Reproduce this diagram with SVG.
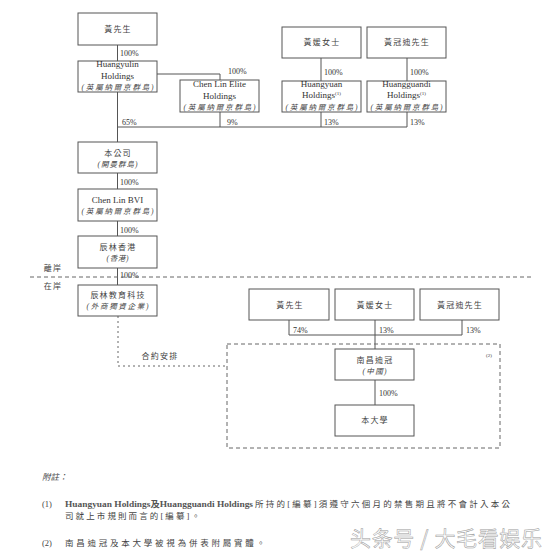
<svg xmlns="http://www.w3.org/2000/svg" width="550" height="553" viewBox="0 0 550 553">
<style>
  .box { fill: #fff; stroke: #555; stroke-width: 1; }
  .ln { fill: none; stroke: #555; stroke-width: 1; }
  .dash { fill: none; stroke: #666; stroke-width: 1; stroke-dasharray: 4 3; }
  .dot { fill: none; stroke: #666; stroke-width: 1; stroke-dasharray: 2 3; }
  .cjk { font-family: "Liberation Serif", "Noto Sans CJK TC", serif; font-size: 8px; fill: #444; text-anchor: middle; letter-spacing: 1.2px; }
  .lat { font-family: "Liberation Serif", "Noto Sans CJK TC", serif; font-size: 9px; fill: #333; text-anchor: middle; }
  .it { font-family: "Liberation Serif", "Noto Sans CJK TC", serif; font-size: 7.5px; fill: #444; text-anchor: middle; font-style: italic; }
  .pct { font-family: "Liberation Serif", serif; font-size: 8px; fill: #333; }
  .note { font-family: "Liberation Serif", "Noto Sans CJK TC", serif; font-size: 8.5px; fill: #444; }
  .sup { font-size: 5px; }
</style>

<g id="connectors">
  <path class="ln" d="M117.5,45 V61"/>
  <path class="ln" d="M157,74 H220 V80"/>
  <path class="ln" d="M220,112 V127"/>
  <path class="ln" d="M117.5,92 V142"/>
  <path class="ln" d="M117.5,127 H407"/>
  <path class="ln" d="M321,58 V81"/>
  <path class="ln" d="M321,112 V127"/>
  <path class="ln" d="M407,58 V81"/>
  <path class="ln" d="M407,112 V127"/>
  <path class="ln" d="M117.5,173 V189"/>
  <path class="ln" d="M117.5,221 V236"/>
  <path class="ln" d="M117.5,268 V285"/>
  <path class="dot" d="M118,316 V366 H227"/>
  <path class="ln" d="M289,320 V335 H462 V320"/>
  <path class="ln" d="M375,320 V349"/>
  <path class="ln" d="M375,380 V405"/>
  <text class="pct" x="120" y="56">100%</text>
  <text class="pct" x="228" y="74">100%</text>
  <text class="pct" x="122" y="125">65%</text>
  <text class="pct" x="227" y="125">9%</text>
  <text class="pct" x="324" y="75">100%</text>
  <text class="pct" x="410" y="75">100%</text>
  <text class="pct" x="324" y="125">13%</text>
  <text class="pct" x="410" y="125">13%</text>
  <text class="pct" x="120" y="185">100%</text>
  <text class="pct" x="120" y="233">100%</text>
  <text class="pct" x="120" y="278">100%</text>
  <text class="pct" x="293" y="333">74%</text>
  <text class="pct" x="379" y="333">13%</text>
  <text class="pct" x="466" y="333">13%</text>
  <text class="pct" x="379" y="396">100%</text>
  <text class="cjk" x="160" y="359">合約安排</text>
</g>

<g id="boundary">
  <path class="dash" d="M30,277 H532"/>
  <text class="cjk" x="53" y="271">離岸</text>
  <text class="cjk" x="53" y="289">在岸</text>
  <rect class="dash" x="227" y="344" width="273" height="104"/>
  <text class="pct" x="486" y="357" style="font-size:5px">(2)</text>
</g>

<g id="n-huang">
  <rect class="box" x="78" y="13" width="79" height="32"/>
  <text class="cjk" x="118" y="32">黃先生</text>
</g>
<g id="n-huangyulin">
  <rect class="box" x="78" y="61" width="79" height="31"/>
  <text class="lat" x="117.5" y="67">Huangyulin</text>
  <text class="lat" x="117.5" y="79">Holdings</text>
  <text class="it" x="117.5" y="90" textLength="72" lengthAdjust="spacing">(英屬納爾京群島)</text>
</g>
<g id="n-chenlinelite">
  <rect class="box" x="180" y="80" width="79" height="32"/>
  <text class="lat" x="219.5" y="87">Chen Lin Elite</text>
  <text class="lat" x="219.5" y="99">Holdings</text>
  <text class="it" x="219.5" y="110" textLength="72" lengthAdjust="spacing">(英屬納爾京群島)</text>
</g>
<g id="n-huangyuan-ms">
  <rect class="box" x="282" y="27" width="79" height="31"/>
  <text class="cjk" x="322" y="45">黃媛女士</text>
</g>
<g id="n-huangguandi-mr">
  <rect class="box" x="367" y="27" width="79" height="31"/>
  <text class="cjk" x="407" y="45">黃冠迪先生</text>
</g>
<g id="n-huangyuan-holdings">
  <rect class="box" x="282" y="81" width="79" height="31"/>
  <text class="lat" x="321.5" y="87">Huangyuan</text>
  <text class="lat" x="321.5" y="98">Holdings<tspan class="sup" dy="-3">(1)</tspan></text>
  <text class="it" x="321.5" y="110" textLength="72" lengthAdjust="spacing">(英屬納爾京群島)</text>
</g>
<g id="n-huangguandi-holdings">
  <rect class="box" x="367" y="81" width="79" height="31"/>
  <text class="lat" x="406.5" y="87">Huangguandi</text>
  <text class="lat" x="406.5" y="98">Holdings<tspan class="sup" dy="-3">(1)</tspan></text>
  <text class="it" x="406.5" y="110" textLength="72" lengthAdjust="spacing">(英屬納爾京群島)</text>
</g>
<g id="n-company">
  <rect class="box" x="78" y="142" width="79" height="31"/>
  <text class="cjk" x="118" y="156">本公司</text>
  <text class="it" x="117.5" y="167" textLength="40" lengthAdjust="spacing">(開曼群島)</text>
</g>
<g id="n-chenlinbvi">
  <rect class="box" x="78" y="189" width="79" height="32"/>
  <text class="lat" x="117.5" y="203">Chen Lin BVI</text>
  <text class="it" x="117.5" y="214" textLength="72" lengthAdjust="spacing">(英屬納爾京群島)</text>
</g>
<g id="n-chenlinhk">
  <rect class="box" x="78" y="236" width="79" height="32"/>
  <text class="cjk" x="118" y="250">辰林香港</text>
  <text class="it" x="117.5" y="261" textLength="22" lengthAdjust="spacing">(香港)</text>
</g>
<g id="n-chenlinedu">
  <rect class="box" x="78" y="285" width="79" height="31"/>
  <text class="cjk" x="118" y="298">辰林教育科技</text>
  <text class="it" x="117.5" y="309" textLength="62" lengthAdjust="spacing">(外商獨資企業)</text>
</g>
<g id="n-huang-2">
  <rect class="box" x="249" y="289" width="80" height="31"/>
  <text class="cjk" x="290" y="308">黃先生</text>
</g>
<g id="n-huangyuan-ms-2">
  <rect class="box" x="335" y="289" width="79" height="31"/>
  <text class="cjk" x="375" y="308">黃媛女士</text>
</g>
<g id="n-huangguandi-mr-2">
  <rect class="box" x="420" y="289" width="79" height="31"/>
  <text class="cjk" x="460" y="308">黃冠迪先生</text>
</g>
<g id="n-nanchang">
  <rect class="box" x="335" y="349" width="79" height="31"/>
  <text class="cjk" x="375" y="363">南昌迪冠</text>
  <text class="it" x="374.5" y="374" textLength="24" lengthAdjust="spacing">(中國)</text>
</g>
<g id="n-university">
  <rect class="box" x="335" y="405" width="79" height="31"/>
  <text class="cjk" x="375" y="423">本大學</text>
</g>

<g id="notes">
  <text class="note" x="42" y="480" style="font-style:italic">附註：</text>
  <text class="note" x="42" y="507">(1)</text>
  <text class="note" x="65" y="507" font-weight="bold" style="fill:#555" textLength="188" lengthAdjust="spacingAndGlyphs">Huangyuan Holdings及Huangguandi Holdings</text>
  <text class="note" x="255" y="507" textLength="255" lengthAdjust="spacing">所持的[編纂]須遵守六個月的禁售期且將不會計入本公</text>
  <text class="note" x="65" y="519" textLength="135" lengthAdjust="spacing">司就上市規則而言的[編纂]。</text>
  <text class="note" x="42" y="546">(2)</text>
  <text class="note" x="65" y="546" textLength="200" lengthAdjust="spacing">南昌迪冠及本大學被視為併表附屬實體。</text>
</g>

<g id="watermark">
  <text x="350" y="546" style="font-family:'Noto Sans CJK SC','Noto Sans',sans-serif;font-size:21px;fill:#fff;stroke:#999;stroke-width:0.5" textLength="192" lengthAdjust="spacing">头条号 / 大毛看娱乐</text>
</g>
</svg>
